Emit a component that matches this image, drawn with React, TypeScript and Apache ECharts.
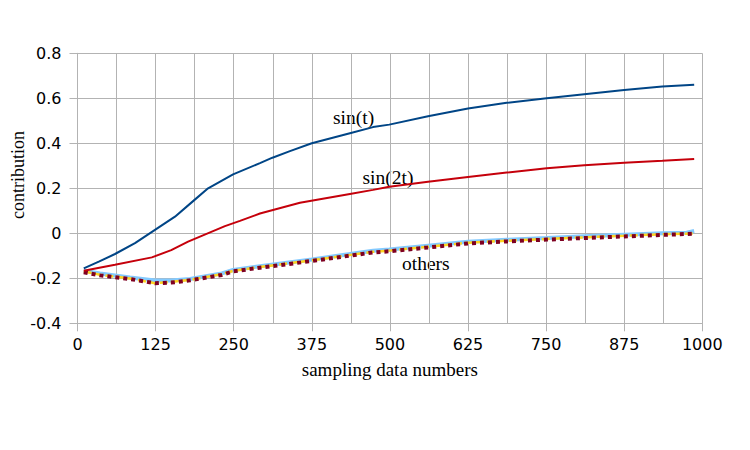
import React, { useEffect, useRef } from "react";
import * as echarts from "echarts";

const xTicks = [0, 125, 250, 375, 500, 625, 750, 875, 1000];

const sinT: [number, number][] = [
  [10, -0.156], [35, -0.125], [60, -0.092], [92, -0.044], [124, 0.015], [156, 0.074],
  [185, 0.143], [209, 0.2], [249, 0.262], [292, 0.312], [312, 0.336], [340, 0.365],
  [375, 0.4], [436, 0.445], [473, 0.472], [499, 0.483], [561, 0.52], [625, 0.555],
  [687, 0.58], [751, 0.6], [811, 0.618], [875, 0.637], [936, 0.652], [987, 0.66],
];

const sin2T: [number, number][] = [
  [10, -0.166], [60, -0.14], [119, -0.107], [150, -0.075], [177, -0.037], [236, 0.032],
  [260, 0.055], [292, 0.088], [356, 0.136], [436, 0.175], [473, 0.193], [499, 0.207],
  [561, 0.229], [625, 0.25], [687, 0.27], [751, 0.289], [811, 0.302], [875, 0.314],
  [936, 0.322], [987, 0.33],
];

const othersA: [number, number][] = [
  [10, -0.166], [36, -0.179], [84, -0.196], [124, -0.21], [150, -0.21], [180, -0.203],
  [231, -0.178], [249, -0.163], [292, -0.146], [375, -0.116], [473, -0.078], [499, -0.072],
  [561, -0.055], [625, -0.038], [687, -0.029], [751, -0.021], [811, -0.013], [875, -0.006],
  [936, 0.0], [975, 0.003], [987, 0.01],
];

const othersB: [number, number][] = [
  [10, -0.17], [36, -0.184], [84, -0.201], [124, -0.222], [150, -0.216], [180, -0.207],
  [231, -0.182], [249, -0.167], [292, -0.15], [375, -0.12], [473, -0.082], [499, -0.077],
  [561, -0.06], [625, -0.042], [687, -0.033], [751, -0.025], [811, -0.018], [875, -0.011],
  [936, -0.004], [987, -0.001],
];

const othersC: [number, number][] = [
  [10, -0.173], [36, -0.187], [84, -0.203], [124, -0.222], [150, -0.219], [180, -0.209],
  [231, -0.185], [249, -0.169], [292, -0.153], [375, -0.123], [473, -0.085], [499, -0.08],
  [561, -0.063], [625, -0.045], [687, -0.036], [751, -0.028], [811, -0.021], [875, -0.014],
  [936, -0.007], [987, -0.002],
];

const GRID = "#b3b3b3";
const SERIF = "'Liberation Serif'";

export default function App() {
  const ref = useRef<HTMLDivElement>(null);
  useEffect(() => {
    if (!ref.current) return;
    const chart = echarts.init(ref.current, null, { renderer: "svg" });
    const line = (data: [number, number][], color: string, width: number, type: any = "solid", z = 2) => ({
      type: "line",
      data,
      showSymbol: false,
      symbol: "none",
      z,
      lineStyle: { color, width, type },
    });
    chart.setOption({
      animation: false,
      backgroundColor: "#ffffff",
      grid: { left: 77.5, right: 47.7, top: 53.3, bottom: 126.7, containLabel: false },
      xAxis: {
        type: "value",
        min: 0,
        max: 1000,
        interval: 125,
        name: "sampling data numbers",
        nameLocation: "middle",
        nameGap: 37,
        nameTextStyle: { fontFamily: "Liberation Serif", fontSize: 19, color: "#000" },
        axisLine: { onZero: false, lineStyle: { color: GRID, width: 1 } },
        axisTick: { show: true, length: 8, lineStyle: { color: GRID } },
        axisLabel: {
          margin: 13,
          fontFamily: "DejaVu Sans",
          fontSize: 16,
          color: "#000",
          formatter: (v: number) => (xTicks.includes(v) ? String(v) : ""),
        },
        splitLine: { show: true, lineStyle: { color: GRID, width: 1 } },
        minorTick: { show: false, splitNumber: 2 },
        minorSplitLine: { show: true, lineStyle: { color: GRID, width: 1 } },
      },
      yAxis: {
        type: "value",
        min: -0.4,
        max: 0.8,
        interval: 0.2,
        axisLine: { show: true, lineStyle: { color: GRID, width: 1 } },
        axisTick: { show: true, length: 8, lineStyle: { color: GRID } },
        axisLabel: {
          margin: 16,
          fontFamily: "DejaVu Sans",
          fontSize: 16,
          color: "#000",
          formatter: (v: number) => {
            const r = Math.round(v * 10) / 10;
            return r === 0 ? "0" : String(r);
          },
        },
        splitLine: { show: true, lineStyle: { color: GRID, width: 1 } },
      },
      series: [
        line(othersA, "#83caff", 4, "solid", 2),
        line(othersB, "#ffd320", 2.5, [8, 3], 3),
        line(othersC, "#7e0021", 4, [4, 4], 4),
        line(sin2T, "#c5000b", 2, "solid", 5),
        line(sinT, "#004586", 2, "solid", 6),
      ],
      graphic: [
        {
          type: "text", x: 18, y: 175, rotation: Math.PI / 2,
          style: { text: "contribution", font: `18px ${SERIF}`, fill: "#000", align: "center", verticalAlign: "middle" },
        },
        { type: "text", x: 333, y: 117, style: { text: "sin(t)", font: `19.5px ${SERIF}`, fill: "#000", verticalAlign: "middle" } },
        { type: "text", x: 362.5, y: 177.5, style: { text: "sin(2t)", font: `19.5px ${SERIF}`, fill: "#000", verticalAlign: "middle" } },
        { type: "text", x: 402, y: 263, style: { text: "others", font: `19.5px ${SERIF}`, fill: "#000", verticalAlign: "middle" } },
      ],
    });
    return () => chart.dispose();
  }, []);
  return <div ref={ref} style={{ position: "absolute", left: 0, top: 0, width: 750, height: 450 }} />;
}
